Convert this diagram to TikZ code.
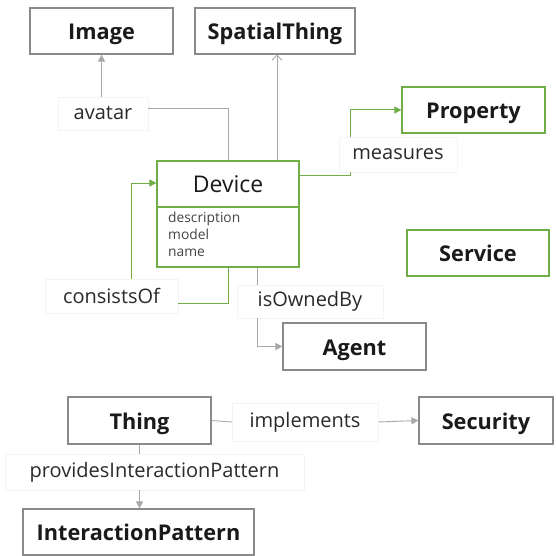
\documentclass[tikz,border=0pt]{standalone}
\usepackage{fontspec}
\setmainfont{Open Sans}
\usetikzlibrary{arrows.meta}
\definecolor{boxgray}{HTML}{8A8A8A}
\definecolor{linegray}{HTML}{A8A8A8}
\definecolor{owlgreen}{HTML}{70AD47}
\definecolor{ink}{HTML}{1A1A1A}
\definecolor{labelink}{HTML}{2A2A2A}
\definecolor{attrink}{HTML}{444444}
\definecolor{labeledge}{HTML}{F4F4F4}
\tikzset{
  classbox/.style={draw=boxgray, line width=1.2pt, fill=white, minimum height=46pt,
    inner sep=0pt, text=ink, text height=19pt, text depth=2pt,
    font=\fontsize{21.7}{25}\selectfont\bfseries},
  greenbox/.style={classbox, draw=owlgreen},
  rellabel/.style={fill=white, draw=labeledge, line width=0.5pt, inner sep=0pt,
    text=labelink, font=\fontsize{20}{24}\selectfont},
  conn/.style={draw=linegray, line width=0.9pt},
  gconn/.style={draw=owlgreen, line width=1pt},
  tip/.style={-{Triangle[length=7pt,width=7pt]}},
  opentip/.style={-{Straight Barb[length=5pt,width=10pt]}},
}
\begin{document}
\begin{tikzpicture}[x=1pt,y=-1pt]
\useasboundingbox[fill=white] (0,0) rectangle (556,556);

% classes
\node[classbox, minimum width=143pt] (image)   at (101.5,31)  {Image};
\node[classbox, minimum width=160pt] (spatial) at (275,31)    {SpatialThing};
\node[greenbox, minimum width=143pt] (property) at (473.5,110) {Property};
\node[greenbox, minimum width=142pt] (service) at (478,253)   {Service};
\node[classbox, minimum width=143pt, minimum height=47pt] (agent) at (354.5,346.5) {Agent};
\node[classbox, minimum width=143pt, minimum height=47pt] (thing) at (139.5,420.5) {Thing};
\node[classbox, minimum width=134pt, minimum height=47pt] (security) at (486,420.5) {Security};
\node[classbox, minimum width=231pt] (ipattern) at (138.5,532) {InteractionPattern};

% Device with its attribute compartment
\node[draw=owlgreen, line width=1.2pt, fill=white, minimum width=142pt, minimum height=46pt,
  inner sep=0pt, text=ink, font=\fontsize{23}{27}\selectfont] (devtitle) at (228,184) {Device};
\node[draw=owlgreen, line width=1.2pt, minimum width=142pt, minimum height=60pt, inner sep=0pt] (devattr) at (228,237) {};
\node[anchor=north west, inner sep=0pt, align=left, text=attrink,
  font=\fontsize{13.8}{17}\selectfont] (attrs) at (168,212) {description\\model\\name};

% relation labels
\node[rellabel, minimum width=90pt, minimum height=33pt] (avatar) at (103,113.5) {avatar};
\node[rellabel, minimum width=118pt, minimum height=35pt] (measures) at (398,154.5) {measures};
\node[rellabel, minimum width=133pt, minimum height=34pt] (consists) at (111.5,296) {consistsOf};
\node[rellabel, minimum width=146pt, minimum height=33pt] (owned) at (310,301.5) {isOwnedBy};
\node[rellabel, minimum width=146pt, minimum height=38pt] (implements) at (305,422) {implements};
\node[rellabel, minimum width=299pt, minimum height=36pt] (provides) at (154.5,472) {providesInteractionPattern};

% avatar
\draw[conn] (devtitle.north) |- ([yshift=5.5pt]avatar.east);
\draw[conn, tip] (avatar.north -| image.south) -- (image.south);
% SpatialThing
\draw[conn, opentip] ([xshift=49pt]devtitle.north) -- ([xshift=49pt]devtitle.north |- spatial.south);
% measures
\draw[gconn] ([yshift=9pt]devtitle.east) -| ([xshift=-48pt]measures.south);
\draw[gconn, tip] ([xshift=-48pt]measures.north) |- (property.west);
% consistsOf
\draw[gconn] (devattr.south) |- ([yshift=-7pt]consists.east);
\draw[gconn, tip] ([xshift=19.5pt]consists.north) |- ([yshift=1pt]devtitle.west);
% isOwnedBy
\draw[conn] ([xshift=29pt]devattr.south) -- ([xshift=29pt]devattr.south |- owned.north);
\draw[conn, tip] ([xshift=29pt]devattr.south |- owned.south) |- (agent.west);
% implements
\draw[conn] (thing.east) -- (implements.west);
\draw[conn, tip] (implements.east) -- (security.west);
% providesInteractionPattern
\draw[conn] (thing.south) -- (thing.south |- provides.north);
\draw[conn, tip] (thing.south |- provides.south) -- (thing.south |- ipattern.north);
\end{tikzpicture}
\end{document}
